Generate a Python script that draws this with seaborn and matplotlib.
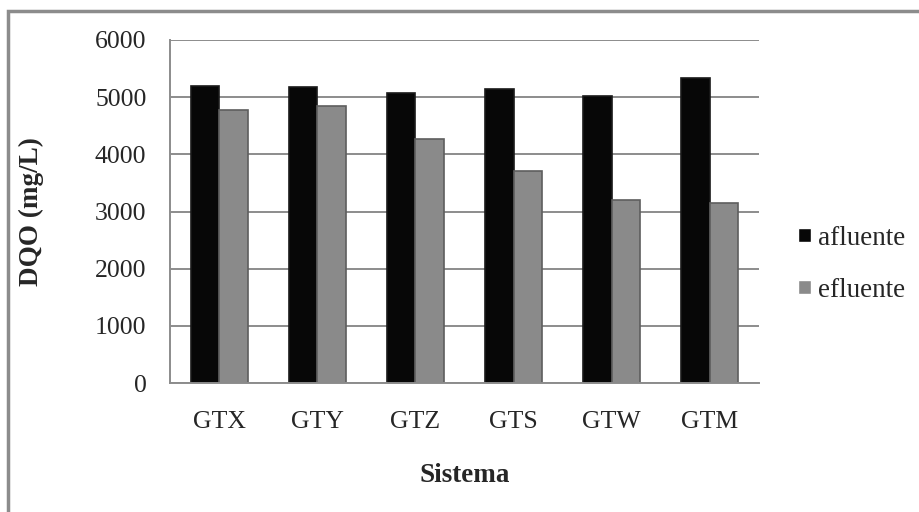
import pandas as pd
import matplotlib
matplotlib.use('Agg')
import matplotlib.pyplot as plt
import seaborn as sns
from matplotlib.patches import Rectangle

# Data
sistemas = ['GTX', 'GTY', 'GTZ', 'GTS', 'GTW', 'GTM']
afluente = [5190, 5175, 5065, 5140, 5020, 5330]
efluente = [4770, 4840, 4260, 3705, 3205, 3150]
series_names = ['afluente', 'efluente']
y_ticks = [0, 1000, 2000, 3000, 4000, 5000, 6000]

df = pd.DataFrame({
    'Sistema': sistemas * 2,
    'serie': [series_names[0]] * len(sistemas) + [series_names[1]] * len(sistemas),
    'DQO': afluente + efluente,
})

sns.set_style('white')
plt.rcParams['font.family'] = ['Liberation Serif', 'DejaVu Serif']

fig = plt.figure(figsize=(9.19, 5.12), dpi=100)
ax = fig.add_axes([170 / 919, 1 - 383 / 512, 589 / 919, 343 / 512])

palette = {'afluente': '#070707', 'efluente': '#8a8a8a'}
sns.barplot(data=df, x='Sistema', y='DQO', hue='serie', palette=palette,
            width=0.58, gap=0, saturation=1, ax=ax, legend=True)

for patch, ec in zip(ax.patches, ['#1a1a1a'] * 6 + ['#5e5e5e'] * 6):
    patch.set_edgecolor(ec)
    patch.set_linewidth(1.2)

ax.set_ylim(0, 6000)
ax.set_yticks(y_ticks)
ax.set_xlim(-0.5, len(sistemas) - 0.5)
ax.yaxis.grid(True, color='#8c8c8c', linewidth=1.4)
ax.set_axisbelow(True)
ax.tick_params(axis='x', length=0, pad=20, labelsize=18.5)
ax.tick_params(axis='y', length=0, pad=17, labelsize=18.5)

for side in ['top', 'right']:
    ax.spines[side].set_visible(False)
for side in ['left', 'bottom']:
    ax.spines[side].set_color('#8c8c8c')
    ax.spines[side].set_linewidth(1.4)

ax.set_xlabel('Sistema', fontsize=19.5, fontweight='bold')
ax.set_ylabel('DQO (mg/L)', fontsize=19.5, fontweight='bold')
ax.xaxis.set_label_coords(0.5, -0.232)
ax.yaxis.set_label_coords(-0.214, 0.5)

handles, labels = ax.get_legend_handles_labels()
ax.get_legend().remove()
fig.legend(handles, labels, loc='center left', bbox_to_anchor=(0.854, 0.484),
           frameon=False, fontsize=19.5, handlelength=0.45, handleheight=0.45,
           handletextpad=0.28, labelspacing=0.99, borderpad=0)

# outer chart frame
fig.patches.append(Rectangle((8 / 919, -0.05), 1.1, 1 - 11 / 512 + 0.05,
                             transform=fig.transFigure, fill=False,
                             edgecolor='#8c8c8c', linewidth=2.5))

fig.savefig('out.png', dpi=100)
